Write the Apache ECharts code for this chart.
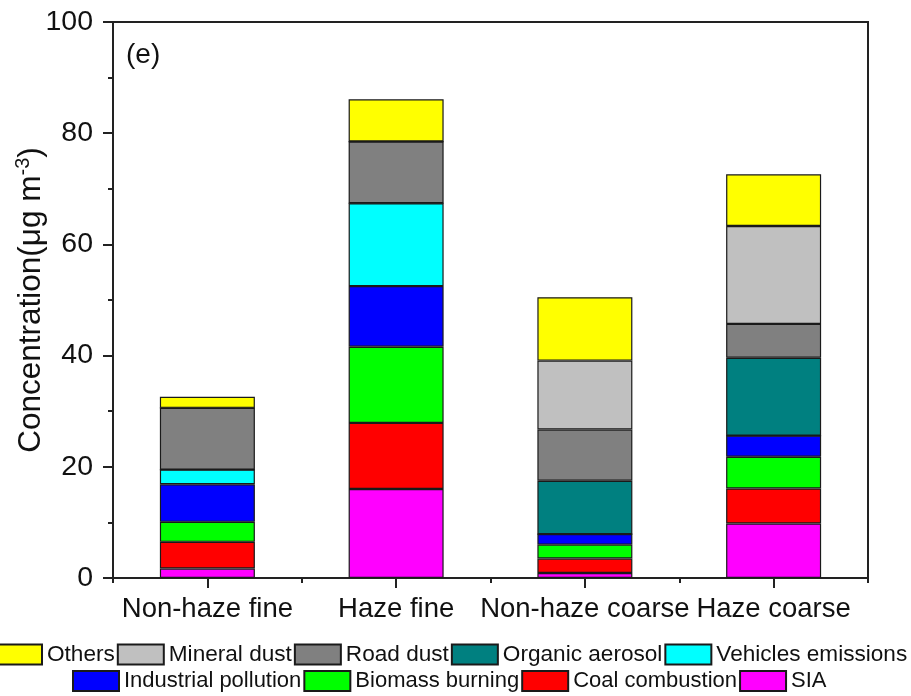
<!DOCTYPE html>
<html>
<head>
<meta charset="utf-8">
<script src="https://cdn.jsdelivr.net/npm/echarts@6/dist/echarts.min.js"></script>
<style>html,body{margin:0;padding:0;background:#fff;}#c{width:911px;height:696px;}</style>
</head>
<body>
<div id="c"></div>
<script>
const categories = ['Non-haze fine', 'Haze fine', 'Non-haze coarse', 'Haze coarse'];
const seriesNames = ['SIA', 'Coal combustion', 'Biomass burning', 'Industrial pollution', 'Vehicles emissions', 'Organic aerosol', 'Road dust', 'Mineral dust', 'Others'];
const SIA = [1.7, 16.0, 0.9, 9.8];
const coalCombustion = [4.8, 11.9, 2.6, 6.3];
const biomassBurning = [3.6, 13.7, 2.5, 5.7];
const industrialPollution = [6.75, 10.9, 1.9, 3.8];
const vehiclesEmissions = [2.65, 14.9, 0, 0];
const organicAerosol = [0, 0, 9.6, 14.0];
const roadDust = [11.1, 11.1, 9.2, 6.1];
const mineralDust = [0, 0, 12.4, 17.6];
const others = [2.0, 7.6, 11.4, 9.3];
const yTicks = [0, 20, 40, 60, 80, 100];
const legendRow1 = ['Others', 'Mineral dust', 'Road dust', 'Organic aerosol', 'Vehicles emissions'];
const legendRow2 = ['Industrial pollution', 'Biomass burning', 'Coal combustion', 'SIA'];

const values = [SIA, coalCombustion, biomassBurning, industrialPollution, vehiclesEmissions, organicAerosol, roadDust, mineralDust, others];
const colors = ['#FF00FF', '#FF0000', '#00FF00', '#0000FF', '#00FFFF', '#008080', '#808080', '#C0C0C0', '#FFFF00'];
const FONT = 'Liberation Sans, Arial, sans-serif';
const AX = '#222';

function mkLegend(names, left, top, fs) {
  return {data: names, left: left, top: top, padding: 0, icon: 'rect',
    itemWidth: 46, itemHeight: 20, itemGap: 2, selectedMode: false,
    textStyle: {fontSize: fs, color: '#111', fontFamily: FONT}};
}

const chart = echarts.init(document.getElementById('c'));
const grid = {left: 113, right: 43, top: 22, bottom: 118, outerBoundsMode: 'none', containLabel: false};
chart.setOption({
  animation: false,
  backgroundColor: '#fff',
  textStyle: {fontFamily: FONT},
  title: {text: '(e)', left: 121, top: 36, textStyle: {fontSize: 28, fontWeight: 'normal', color: '#111', fontFamily: FONT}},
  grid: [
    Object.assign({show: true, borderColor: AX, borderWidth: 2, backgroundColor: 'transparent'}, grid),
    Object.assign({show: false}, grid)
  ],
  legend: [mkLegend(legendRow1, -5, 643, 22.6), mkLegend(legendRow2, 72, 670, 22)],
  xAxis: [
    {type: 'category', gridIndex: 0, data: categories, boundaryGap: true,
     axisLine: {show: true, lineStyle: {color: AX, width: 2}}, axisTick: {show: false},
     axisLabel: {fontSize: 27.5, color: '#111', margin: 17, fontFamily: FONT, interval: 0}},
    {type: 'value', gridIndex: 1, min: 0, max: 4, interval: 1,
     axisLine: {show: false}, axisLabel: {show: false}, splitLine: {show: false},
     axisTick: {show: true, length: 5, lineStyle: {color: AX, width: 2}},
     minorTick: {show: true, splitNumber: 2, length: 10, lineStyle: {color: AX, width: 2}}}
  ],
  yAxis: [
    {type: 'value', gridIndex: 0, min: yTicks[0], max: yTicks[yTicks.length - 1], interval: 20,
     name: 'Concentration(μg m{sup|-3})', nameLocation: 'middle', nameGap: 64, nameRotate: 90,
     nameMoveOverlap: false,
     nameTextStyle: {fontSize: 31.5, color: '#111', fontFamily: FONT,
       rich: {sup: {fontSize: 20, color: '#111', fontFamily: FONT, padding: [0, 0, 16, 0]}}},
     axisLine: {show: true, lineStyle: {color: AX, width: 2}},
     axisTick: {show: true, length: 10, lineStyle: {color: AX, width: 2}},
     minorTick: {show: true, splitNumber: 2, length: 5, lineStyle: {color: AX, width: 2}},
     splitLine: {show: false},
     axisLabel: {fontSize: 28.5, color: '#111', margin: 20, fontFamily: FONT}},
    {type: 'value', gridIndex: 1, min: 0, max: 100, show: false}
  ],
  series: seriesNames.map((n, i) => ({
    name: n, type: 'bar', stack: 'total', xAxisIndex: 0, yAxisIndex: 0,
    barWidth: 95, data: values[i],
    itemStyle: {color: colors[i], borderColor: '#1a1a1a', borderWidth: 1.2},
    emphasis: {disabled: true}
  }))
});
</script>
</body>
</html>
